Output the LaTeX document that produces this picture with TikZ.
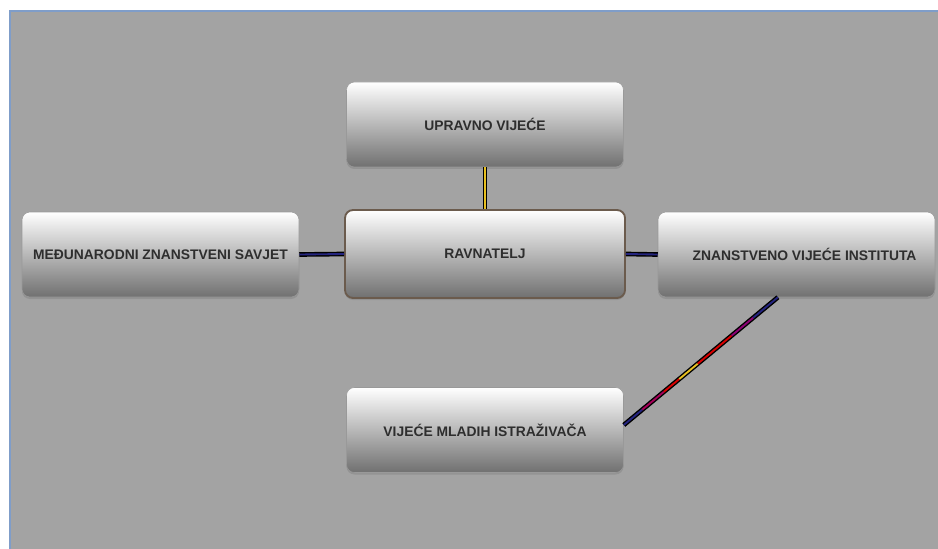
\documentclass[tikz,border=0pt]{standalone}
\usepackage{fontspec}
\setmainfont{Liberation Sans}
\usetikzlibrary{calc,shadows}
\definecolor{pagegray}{HTML}{A3A3A3}
\definecolor{frameblue}{HTML}{7F9DC9}
\definecolor{boxrim}{HTML}{6B5B4D}
\definecolor{wirenavy}{HTML}{24247F}
\definecolor{wireyellow}{HTML}{E8C020}
\tikzset{
  orgbox/.style={rounded corners=6pt, top color=white, bottom color=black!56,
    draw=black!40, line width=0.4pt, minimum width=207.75pt, minimum height=63.75pt,
    font=\bfseries\fontsize{10.4}{12}\selectfont, text=black!82,
    drop shadow={shadow xshift=0pt, shadow yshift=-1.5pt, opacity=.45}},
  headbox/.style={orgbox, draw=boxrim, line width=1.4pt, minimum width=210pt, minimum height=66pt},
  wire/.style={line width=3.5pt, black},
  wirecore/.style={line width=1.4pt, draw=#1},
}

\begin{document}
\begin{tikzpicture}[x=0.75pt, y=-0.75pt]
		%%%%% START %%%%%
		\useasboundingbox (0,0) rectangle (938,549);
		\fill[pagegray] (10,11) rectangle (938,549);
		\draw[frameblue, line width=1.5pt] (10,549) -- (10,11) -- (938,11);
		
		\node[orgbox] (upravno) at (485,124.5) {UPRAVNO VIJEĆE};
		\node[headbox] (ravnatelj) at (485,254) {RAVNATELJ};
		\node[orgbox] (savjet) at (160.5,254.5) {MEĐUNARODNI ZNANSTVENI SAVJET};
		\node[orgbox] (znanvijece) at (796.5,254.5) {\hspace*{12pt}ZNANSTVENO VIJEĆE INSTITUTA};
		\node[orgbox] (mladi) at (485,430) {VIJEĆE MLADIH ISTRAŽIVAČA};
		
		\draw[wire] (upravno.south) -- (ravnatelj.north);
		\draw[wirecore=wireyellow] (upravno.south) -- (ravnatelj.north);
		
		\draw[wire] (savjet.east) -- (ravnatelj.west);
		\draw[wirecore=wirenavy] (savjet.east) -- (ravnatelj.west);
		\draw[wire] (ravnatelj.east) -- (znanvijece.west);
		\draw[wirecore=wirenavy] (ravnatelj.east) -- (znanvijece.west);
		
		\coordinate (dlow) at ($(mladi.east)+(0,-5)$);
		\coordinate (dtop) at ($(znanvijece.south west)!0.433!(znanvijece.south east)$);
		\draw[wire] (dlow) -- (dtop);
		\foreach \a/\b/\c in {0/.12/wirenavy, .12/.26/red!65!blue, .26/.36/red!85!black,
			.36/.48/wireyellow, .48/.7/red!85!black, .7/.84/red!55!blue, .84/1/wirenavy}
			\draw[wirecore=\c] ($(dlow)!\a!(dtop)$) -- ($(dlow)!\b!(dtop)$);
		
		%%%%% END %%%%%
\end{tikzpicture}
\end{document}
